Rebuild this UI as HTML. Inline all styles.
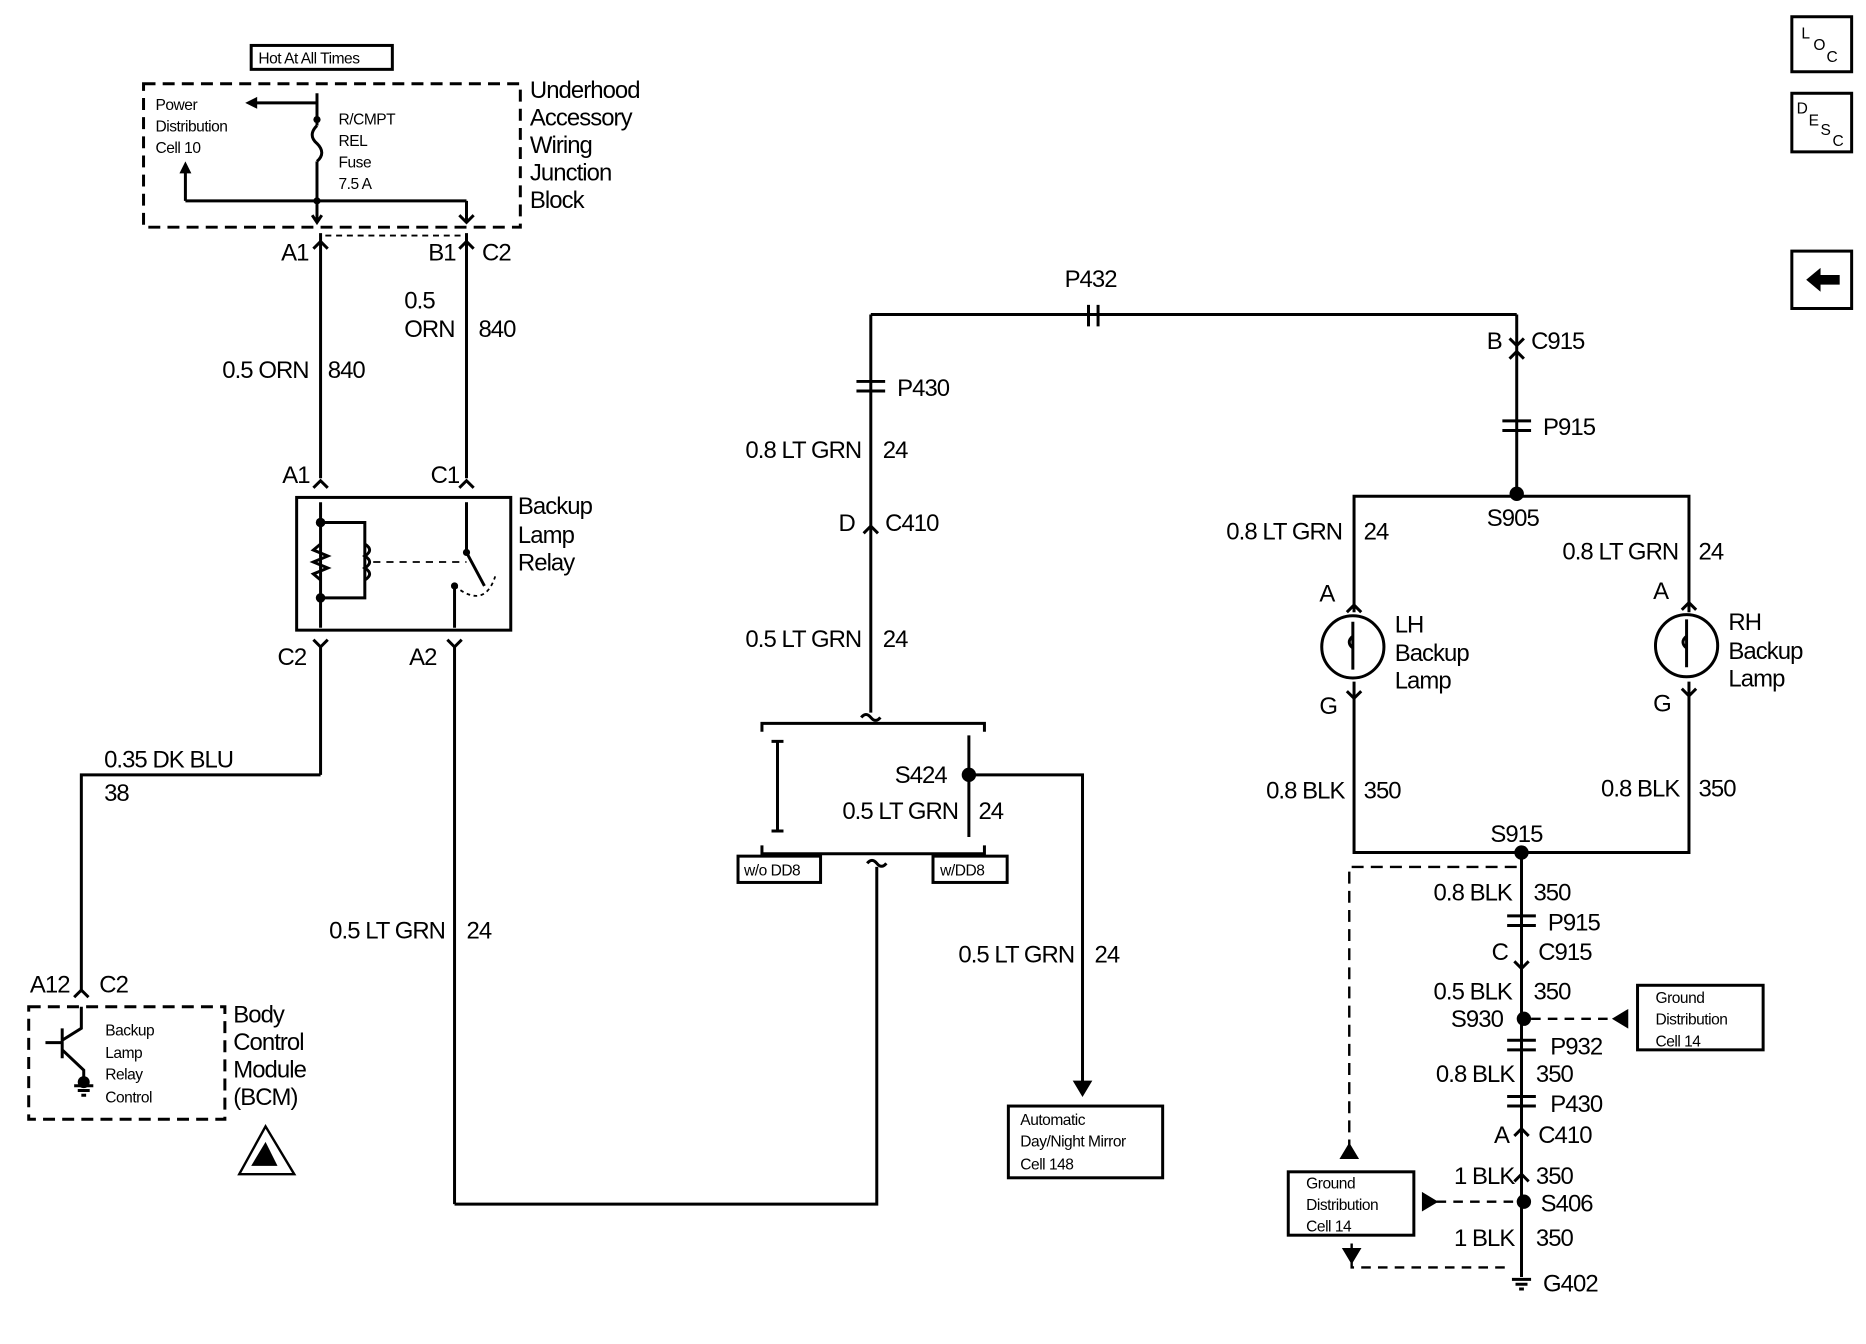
<!DOCTYPE html>
<html><head><meta charset="utf-8"><style>
html,body{margin:0;padding:0;background:#fff;}
svg{display:block;}
text{font-family:"Liberation Sans",Arial,sans-serif;fill:#000;}
.t{font-size:20px;letter-spacing:-0.8px;}
.s{font-size:13px;letter-spacing:-0.4px;}
.r{text-anchor:end;}
</style></head><body>
<svg width="1866" height="1344" viewBox="0 0 1560 1124" preserveAspectRatio="none" xmlns="http://www.w3.org/2000/svg">
<g stroke="#000" stroke-width="2.5" fill="none">
<rect x="210" y="38" width="118" height="20"/>
<rect x="120" y="70" width="315" height="120" stroke-dasharray="10,6"/>
<line x1="265" y1="78" x2="265" y2="105"/>
<path d="M265 105 q-8 8 0 15 q8 8 0 15"/>
<line x1="265" y1="135" x2="265" y2="185"/>
<line x1="265" y1="86" x2="210" y2="86"/>
<path d="M155 168 V140 M390 168 V185 M155 168 H390"/>
<line x1="268" y1="195" x2="268" y2="400"/>
<line x1="390" y1="195" x2="390" y2="400"/>
<line x1="272" y1="197" x2="386" y2="197" stroke-dasharray="5,4" stroke-width="1.5"/>
<path d="M261 180 l4 6 l4 -6 M384 180 l6 6 l6 -6 M262 208 l6 -6 l6 6 M384 208 l6 -6 l6 6"/>
<path d="M262 408 l6 -6 l6 6 M384 408 l6 -6 l6 6"/>
<rect x="248" y="416" width="179" height="111"/>
<line x1="268" y1="420" x2="268" y2="525"/>
<path d="M268 437 H305 V500 H268"/>
<path d="M268 455 l-6 5 l12 5 l-12 5 l12 5 l-12 5 l6 5"/>
<path d="M305 455 q8 5 0 10 q8 5 0 10 q8 5 0 10"/>
<line x1="312" y1="470" x2="390" y2="470" stroke-dasharray="6,5" stroke-width="1.5"/>
<line x1="390" y1="420" x2="390" y2="462"/>
<line x1="390" y1="462" x2="405" y2="490"/>
<path d="M380 490 q25 20 34 -8" stroke-dasharray="3,3" stroke-width="1.5"/>
<line x1="380" y1="490" x2="380" y2="525"/>
<path d="M262 535 l6 6 l6 -6 M374 535 l6 6 l6 -6"/>
<line x1="268" y1="540" x2="268" y2="648"/>
<path d="M268 648 H68 V830"/>
<line x1="380" y1="540" x2="380" y2="1007"/>
<path d="M380 1007 H733 V725"/>
<path d="M725 722 q4 -5 8 0 q4 5 8 0"/>
<path d="M62 834 l6 -6 l6 6"/>
<rect x="24" y="842" width="164" height="94" stroke-dasharray="10,6"/>
<path d="M68 842 V860 L52 870 M52 860 V885 M38 872 H52 M52 878 L70 895 V905 M62 908 h16 M65 912 h10 M68 916 h4"/>
<path d="M200 982 L222 942 L246 982 Z" stroke-width="2"/>
<path d="M210 975 l12 -20 l10 20 Z" fill="#000" stroke="none"/>
<line x1="728" y1="263" x2="1268" y2="263"/>
<line x1="728" y1="263" x2="728" y2="596"/>
<path d="M720 600 q4 -5 8 0 q4 5 8 0"/>
<path d="M910 255 v18 M918 255 v18"/>
<path d="M716 319 h24 M716 327 h24"/>
<path d="M722 446 l6 -6 l6 6"/>
<path d="M637 612 v-7 H823 v7 M637 707 v7 H823 v-7"/>
<path d="M645 620 h10 M650 620 v75 M645 695 h10"/>
<line x1="810" y1="615" x2="810" y2="700"/>
<path d="M810 648 H905 V910"/>
<path d="M899 905 l6 10 l6 -10 Z" fill="#000"/>
<rect x="617" y="716" width="69" height="22"/>
<rect x="780" y="716" width="62" height="22"/>
<rect x="843" y="925" width="129" height="60"/>
<line x1="1268" y1="263" x2="1268" y2="413"/>
<path d="M1262 300 l6 -6 l6 6 M1262 283 l6 6 l6 -6"/>
<path d="M1256 352 h24 M1256 360 h24"/>
<path d="M1132 512 V415 H1412 V512"/>
<path d="M1126 512 l6 -6 l6 6 M1406 510 l6 -6 l6 6"/>
<circle cx="1131" cy="541" r="26"/>
<circle cx="1410" cy="540" r="26"/>
<path d="M1131 520 v40 M1131 532 q-6 5 0 10 M1410 518 v40 M1410 532 q-6 5 0 10"/>
<path d="M1132 570 V713 H1412 V570"/>
<path d="M1126 578 l6 6 l6 -6 M1406 576 l6 6 l6 -6"/>
<line x1="1272" y1="713" x2="1272" y2="1068"/>
<path d="M1268 725 H1128 V960" stroke-dasharray="10,6" stroke-width="2"/>
<path d="M1122 968 l6 -10 l6 10 Z" fill="#000"/>
<path d="M1260 766 h24 M1260 774 h24 M1260 870 h24 M1260 878 h24 M1260 917 h24 M1260 925 h24"/>
<path d="M1266 804 l6 6 l6 -6 M1266 950 l6 -6 l6 6 M1266 988 l6 -6 l6 6"/>
<path d="M1280 852 H1355" stroke-dasharray="8,6" stroke-width="2"/>
<path d="M1360 846 l-10 6 l10 6 Z" fill="#000"/>
<rect x="1369" y="824" width="105" height="54"/>
<path d="M1265 1005 H1195" stroke-dasharray="8,6" stroke-width="2"/>
<path d="M1190 999 l10 6 l-10 6 Z" fill="#000"/>
<rect x="1077" y="980" width="105" height="53"/>
<path d="M1130 1040 V1060 H1262" stroke-dasharray="8,6" stroke-width="2"/>
<path d="M1124 1045 l6 10 l6 -10 Z" fill="#000"/>
<path d="M1264 1070 h16 M1267 1074 h10 M1270 1078 h4"/>
<rect x="1498" y="14" width="50" height="46"/>
<rect x="1498" y="78" width="50" height="49"/>
<rect x="1498" y="210" width="50" height="48"/>
</g>
<g fill="#000">
<path d="M205 86 l10 -5 v10 Z M155 135 l-5 10 h10 Z"/>
<circle cx="265" cy="100" r="3"/><circle cx="265" cy="168" r="3"/>
<circle cx="268" cy="437" r="4"/><circle cx="268" cy="500" r="4"/>
<circle cx="390" cy="462" r="3"/><circle cx="380" cy="490" r="3"/>
<circle cx="70" cy="905" r="5"/>
<circle cx="810" cy="648" r="6"/>
<circle cx="1268" cy="413" r="6"/><circle cx="1272" cy="713" r="6"/>
<circle cx="1274" cy="852" r="6"/><circle cx="1274" cy="1005" r="6"/>
<path d="M1510 234 l12 -10 v6 h16 v8 h-16 v6 Z"/>
</g>
<text class="s" x="216" y="53">Hot At All Times</text>
<text class="s" x="130" y="92">Power</text><text class="s" x="130" y="110">Distribution</text><text class="s" x="130" y="128">Cell 10</text>
<text class="s" x="283" y="104">R/CMPT</text><text class="s" x="283" y="122">REL</text><text class="s" x="283" y="140">Fuse</text><text class="s" x="283" y="158">7.5 A</text>
<text class="t" x="443" y="82">Underhood</text><text class="t" x="443" y="105">Accessory</text><text class="t" x="443" y="128">Wiring</text><text class="t" x="443" y="151">Junction</text><text class="t" x="443" y="174">Block</text>
<text class="t" x="235" y="218">A1</text><text class="t" x="358" y="218">B1</text><text class="t" x="403" y="218">C2</text>
<text class="t r" x="258" y="316">0.5 ORN</text><text class="t" x="274" y="316">840</text>
<text class="t" x="338" y="258">0.5</text><text class="t" x="338" y="282">ORN</text><text class="t" x="400" y="282">840</text>
<text class="t" x="236" y="404">A1</text><text class="t" x="360" y="404">C1</text>
<text class="t" x="433" y="430">Backup</text><text class="t" x="433" y="454">Lamp</text><text class="t" x="433" y="477">Relay</text>
<text class="t" x="232" y="556">C2</text><text class="t" x="342" y="556">A2</text>
<text class="t" x="87" y="642">0.35 DK BLU</text><text class="t" x="87" y="670">38</text>
<text class="t r" x="372" y="785">0.5 LT GRN</text><text class="t" x="390" y="785">24</text>
<text class="t" x="25" y="830">A12</text><text class="t" x="83" y="830">C2</text>
<text class="s" x="88" y="866">Backup</text><text class="s" x="88" y="885">Lamp</text><text class="s" x="88" y="903">Relay</text><text class="s" x="88" y="922">Control</text>
<text class="t" x="195" y="855">Body</text><text class="t" x="195" y="878">Control</text><text class="t" x="195" y="901">Module</text><text class="t" x="195" y="924">(BCM)</text>
<text class="t" x="890" y="240">P432</text>
<text class="t" x="750" y="331">P430</text>
<text class="t r" x="720" y="383">0.8 LT GRN</text><text class="t" x="738" y="383">24</text>
<text class="t" x="701" y="444">D</text><text class="t" x="740" y="444">C410</text>
<text class="t r" x="720" y="541">0.5 LT GRN</text><text class="t" x="738" y="541">24</text>
<text class="t" x="748" y="655">S424</text>
<text class="t r" x="801" y="685">0.5 LT GRN</text><text class="t" x="818" y="685">24</text>
<text class="s" x="622" y="732">w/o DD8</text><text class="s" x="786" y="732">w/DD8</text>
<text class="t r" x="898" y="805">0.5 LT GRN</text><text class="t" x="915" y="805">24</text>
<text class="s" x="853" y="941">Automatic</text><text class="s" x="853" y="959">Day/Night Mirror</text><text class="s" x="853" y="978">Cell 148</text>
<text class="t" x="1243" y="292">B</text><text class="t" x="1280" y="292">C915</text>
<text class="t" x="1290" y="364">P915</text>
<text class="t" x="1243" y="440">S905</text>
<text class="t r" x="1122" y="451">0.8 LT GRN</text><text class="t" x="1140" y="451">24</text>
<text class="t r" x="1403" y="468">0.8 LT GRN</text><text class="t" x="1420" y="468">24</text>
<text class="t" x="1103" y="503">A</text><text class="t" x="1382" y="501">A</text>
<text class="t" x="1166" y="529">LH</text><text class="t" x="1166" y="553">Backup</text><text class="t" x="1166" y="576">Lamp</text>
<text class="t" x="1445" y="527">RH</text><text class="t" x="1445" y="551">Backup</text><text class="t" x="1445" y="574">Lamp</text>
<text class="t" x="1103" y="597">G</text><text class="t" x="1382" y="595">G</text>
<text class="t r" x="1124" y="668">0.8 BLK</text><text class="t" x="1140" y="668">350</text>
<text class="t r" x="1404" y="666">0.8 BLK</text><text class="t" x="1420" y="666">350</text>
<text class="t" x="1246" y="704">S915</text>
<text class="t r" x="1264" y="753">0.8 BLK</text><text class="t" x="1282" y="753">350</text>
<text class="t" x="1294" y="778">P915</text>
<text class="t" x="1247" y="803">C</text><text class="t" x="1286" y="803">C915</text>
<text class="t r" x="1264" y="836">0.5 BLK</text><text class="t" x="1282" y="836">350</text>
<text class="t" x="1213" y="859">S930</text>
<text class="s" x="1384" y="839">Ground</text><text class="s" x="1384" y="857">Distribution</text><text class="s" x="1384" y="875">Cell 14</text>
<text class="t" x="1296" y="882">P932</text>
<text class="t r" x="1266" y="905">0.8 BLK</text><text class="t" x="1284" y="905">350</text>
<text class="t" x="1296" y="930">P430</text>
<text class="t" x="1249" y="956">A</text><text class="t" x="1286" y="956">C410</text>
<text class="t r" x="1266" y="990">1 BLK</text><text class="t" x="1284" y="990">350</text>
<text class="t" x="1288" y="1013">S406</text>
<text class="s" x="1092" y="994">Ground</text><text class="s" x="1092" y="1012">Distribution</text><text class="s" x="1092" y="1030">Cell 14</text>
<text class="t r" x="1266" y="1042">1 BLK</text><text class="t" x="1284" y="1042">350</text>
<text class="t" x="1290" y="1080">G402</text>
<text class="s" x="1506" y="32">L</text><text class="s" x="1516" y="42">O</text><text class="s" x="1527" y="52">C</text>
<text class="s" x="1502" y="95">D</text><text class="s" x="1512" y="105">E</text><text class="s" x="1522" y="113">S</text><text class="s" x="1532" y="122">C</text>
</svg>
</body></html>
